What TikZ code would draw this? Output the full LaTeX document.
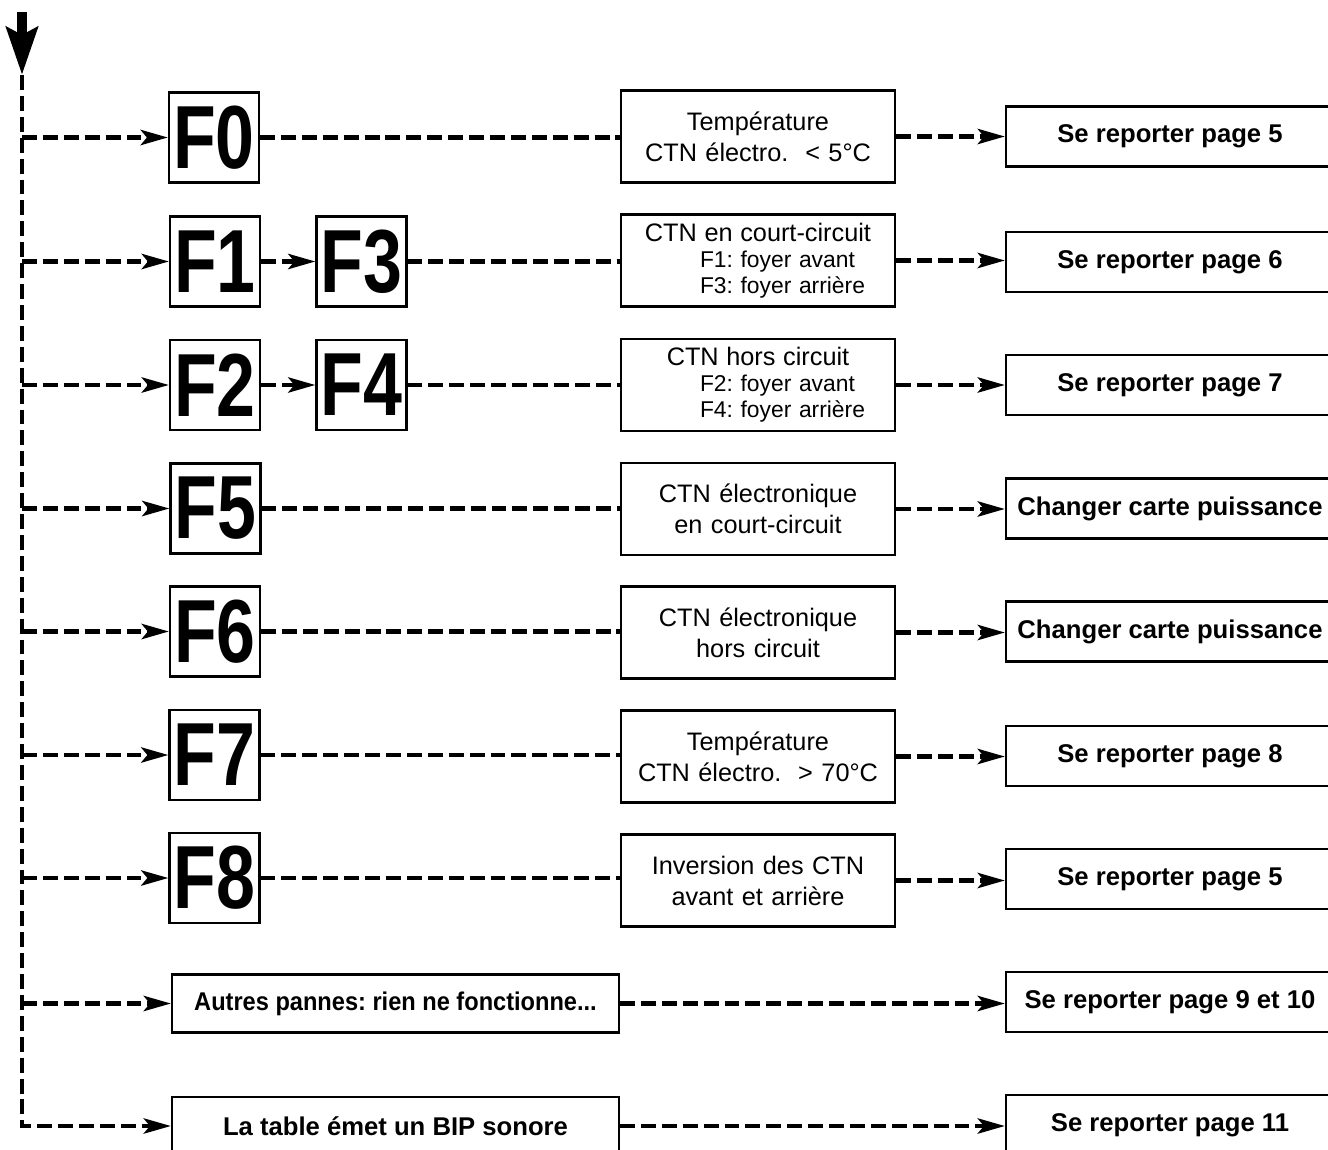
\documentclass[tikz,border=0pt]{standalone}
\usepackage{graphicx}
\usepackage{fontspec}
\setmainfont{Liberation Sans}
\usetikzlibrary{arrows.meta,positioning}
\frenchspacing

\begin{document}
\begin{tikzpicture}[
  x=0.02cm, y=-0.02cm,
  >={Stealth[length=5.4mm,width=3mm,inset=1.2mm]},
  link/.style={line width=2.8pt,dash pattern=on 8.5pt off 3.4pt},
  flow/.style={link,->},
  display/.style={draw,line width=1.2pt,minimum width=1.8cm,minimum height=1.8cm,inner sep=0pt,
    font=\fontsize{51}{51}\selectfont\bfseries},
  cause/.style={draw,line width=1.2pt,minimum width=5.48cm,minimum height=1.84cm,text width=5.2cm,
    align=center,font=\fontsize{14.4}{17.6}\selectfont},
  subcause/.style={cause,font=\fontsize{13}{14.7}\selectfont},
  target/.style={draw,line width=1.2pt,minimum width=6.56cm,minimum height=1.2cm,
    font=\fontsize{14.6}{17}\selectfont\bfseries},
  event/.style={draw,line width=1.2pt,minimum width=8.94cm,minimum height=1.16cm,
    font=\fontsize{14.6}{17}\selectfont\bfseries}
]
  \useasboundingbox (0,0) rectangle (1328,1149);
  \clip (0,0) rectangle (1328,1149);

  \node[display] (f0) at (214,137.5) {\scalebox{0.78}[1]{F0}};
  \node[display] (f1) at (215,261.5) {\scalebox{0.78}[1]{F1}};
  \node[display] (f3) at (361.5,261.5) {\scalebox{0.78}[1]{F3}};
  \node[display] (f2) at (215,385) {\scalebox{0.78}[1]{F2}};
  \node[display] (f4) at (361.5,385) {\scalebox{0.78}[1]{F4}};
  \node[display] (f5) at (215.5,508.5) {\scalebox{0.78}[1]{F5}};
  \node[display] (f6) at (215,631.5) {\scalebox{0.78}[1]{F6}};
  \node[display] (f7) at (214.5,755) {\scalebox{0.78}[1]{F7}};
  \node[display] (f8) at (214.5,878) {\scalebox{0.78}[1]{F8}};

  \node[cause] (c0) at (758,136.5) {Température\\CTN électro.\ \ < 5°C};
  \node[subcause] (c1) at (758,260.5) {{\fontsize{14.4}{14.7}\selectfont CTN en court-circuit}\\
    \makebox[5.2cm][l]{\hspace*{1.44cm}F1: foyer avant}\\
    \makebox[5.2cm][l]{\hspace*{1.44cm}F3: foyer arrière}};
  \node[subcause] (c2) at (758,385) {{\fontsize{14.4}{14.7}\selectfont CTN hors circuit}\\
    \makebox[5.2cm][l]{\hspace*{1.44cm}F2: foyer avant}\\
    \makebox[5.2cm][l]{\hspace*{1.44cm}F4: foyer arrière}};
  \node[cause] (c5) at (758,509) {CTN électronique\\en court-circuit};
  \node[cause] (c6) at (758,632.5) {CTN électronique\\hors circuit};
  \node[cause] (c7) at (758,756.5) {Température\\CTN électro.\ \ > 70°C};
  \node[cause] (c8) at (758,880.5) {Inversion des CTN\\avant et arrière};

  \node[event] (autres) at (395.5,1003.5) {\scalebox{0.92}[1]{Autres pannes: rien ne fonctionne...}};
  \node[event] (bip) at (395.5,1126) {La table émet un BIP sonore};

  \node[target] (t0) at (1170,136.5) {Se reporter page 5};
  \node[target] (t1) at (1170,262) {Se reporter page 6};
  \node[target] (t2) at (1170,385) {Se reporter page 7};
  \node[target] (t5) at (1170,508.5) {Changer carte puissance};
  \node[target] (t6) at (1170,631.5) {Changer carte puissance};
  \node[target] (t7) at (1170,756) {Se reporter page 8};
  \node[target] (t8) at (1170,879) {Se reporter page 5};
  \node[target] (t9) at (1170,1002) {Se reporter page 9 et 10};
  \node[target] (t11) at (1170,1125) {Se reporter page 11};

  \coordinate (top) at (22,12);
  \coordinate (start) at (22,75);
  \draw[line width=6pt,-{Stealth[length=9.5mm,width=6.2mm,inset=1.5mm]}] (top) -- (start);
  \draw[flow] (start) |- (bip.west);

  \draw[flow] (f0.west -| start) -- (f0.west);
  \draw[flow] (f1.west -| start) -- (f1.west);
  \draw[flow] (f2.west -| start) -- (f2.west);
  \draw[flow] (f5.west -| start) -- (f5.west);
  \draw[flow] (f6.west -| start) -- (f6.west);
  \draw[flow] (f7.west -| start) -- (f7.west);
  \draw[flow] (f8.west -| start) -- (f8.west);
  \draw[flow] (autres.west -| start) -- (autres.west);
  \draw[flow] (f1) -- (f3);
  \draw[flow] (f2) -- (f4);

  \draw[link] (f0.east) -- (f0.east -| c0.west);
  \draw[link] (f3.east) -- (f3.east -| c1.west);
  \draw[link] (f4.east) -- (f4.east -| c2.west);
  \draw[link] (f5.east) -- (f5.east -| c5.west);
  \draw[link] (f6.east) -- (f6.east -| c6.west);
  \draw[link] (f7.east) -- (f7.east -| c7.west);
  \draw[link] (f8.east) -- (f8.east -| c8.west);

  \draw[flow] (c0.east) -- (c0.east -| t0.west);
  \draw[flow] (c1.east) -- (c1.east -| t1.west);
  \draw[flow] (c2.east) -- (c2.east -| t2.west);
  \draw[flow] (c5.east) -- (c5.east -| t5.west);
  \draw[flow] (c6.east) -- (c6.east -| t6.west);
  \draw[flow] (c7.east) -- (c7.east -| t7.west);
  \draw[flow] (c8.east) -- (c8.east -| t8.west);
  \draw[flow] (autres.east) -- (autres.east -| t9.west);
  \draw[flow] (bip.east) -- (bip.east -| t11.west);
\end{tikzpicture}
\end{document}
